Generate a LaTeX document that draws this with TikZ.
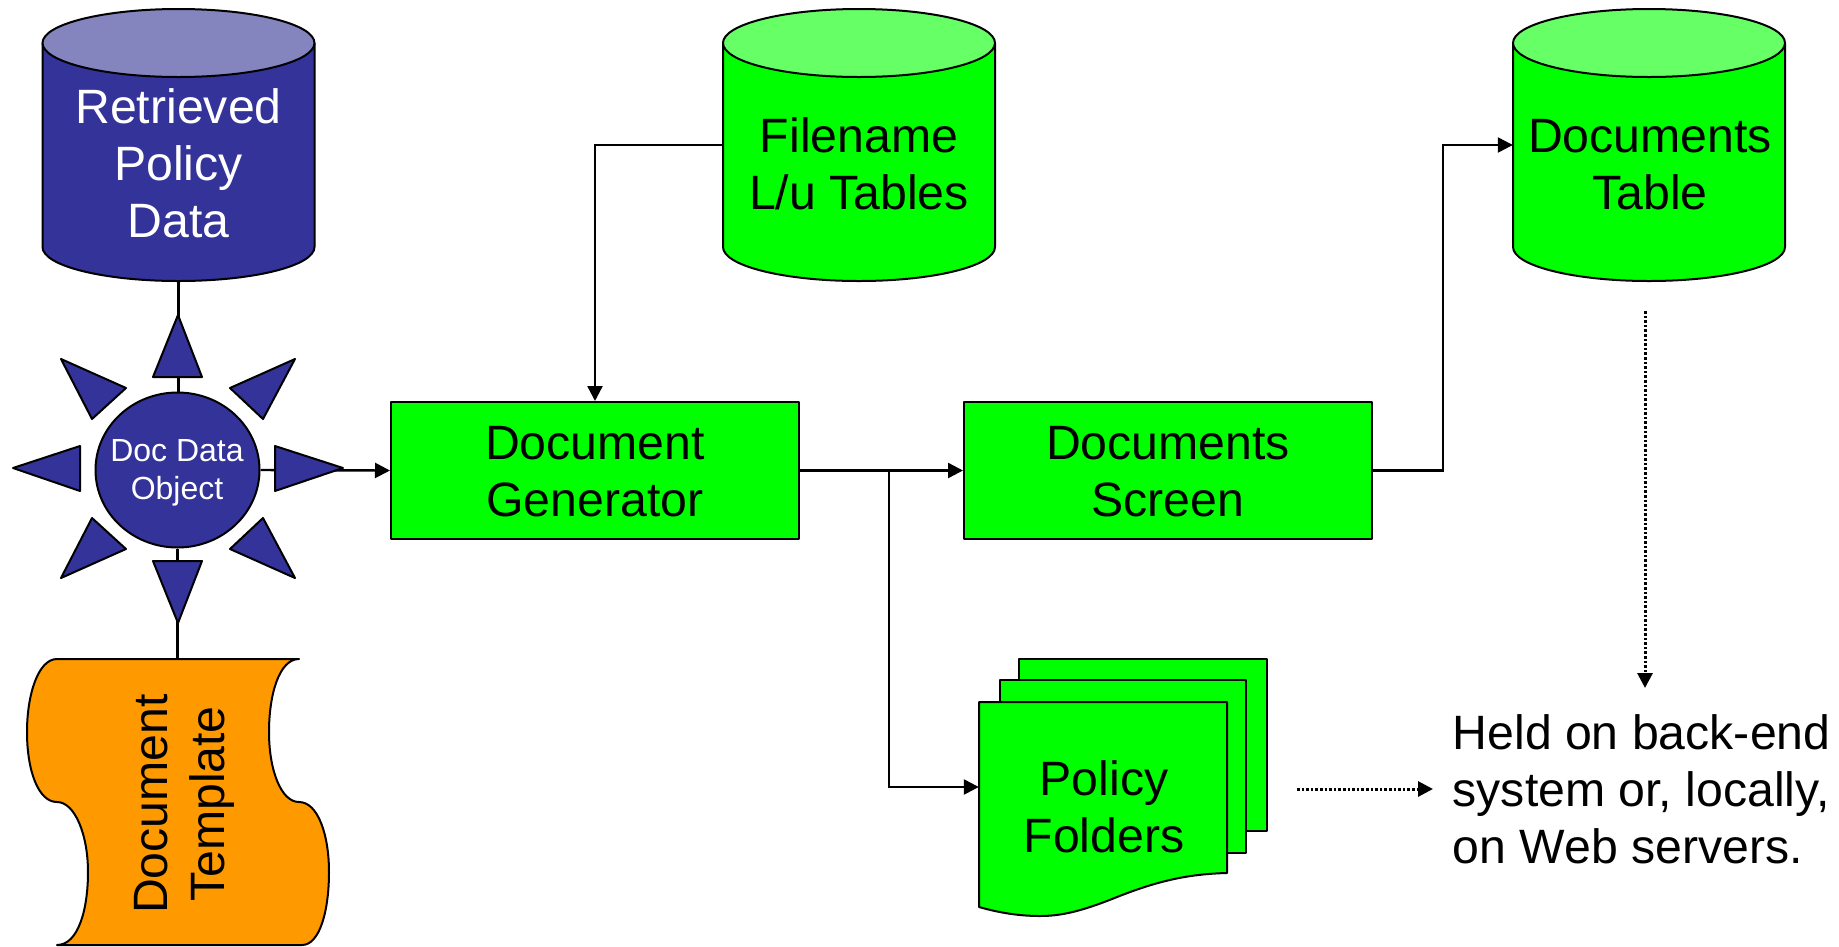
\documentclass[tikz,border=0pt]{standalone}
\usepackage{fontspec}
\setmainfont{Liberation Sans}
\usetikzlibrary{arrows.meta,shapes.geometric}
\definecolor{navy}{HTML}{333399}
\definecolor{navytop}{HTML}{8484BE}
\definecolor{bright}{HTML}{00FF00}
\definecolor{lighttop}{HTML}{66FF66}
\definecolor{amber}{HTML}{FF9900}
\tikzset{
  outline/.style={draw=black,line width=2pt,line join=round},
  ray/.style={outline,fill=navy},
  boxnode/.style={outline,fill=bright,minimum width=408pt,minimum height=137pt,inner sep=0pt,align=center,font=\bigtext},
  bigtext/.style={inner sep=0pt,align=center,font=\bigtext},
  anchorbox/.style={minimum width=272pt,minimum height=272pt,inner sep=0pt},
  link/.style={line width=2.4pt,draw=black},
  arrowlink/.style={link,-{Triangle[length=15pt,width=15pt]}},
  dotlink/.style={line width=3pt,draw=black,dash pattern=on 2.6pt off 2pt,-{Triangle[length=15pt,width=15pt]}}
}
\newcommand{\bigtext}{\fontsize{48.2}{57}\selectfont}
\newcommand{\cylinderdraw}[4]{% name, centre x, body colour, top colour
  \path[outline,fill=#3] (#2-136,43) -- (#2-136,247) .. controls +(0,18.8) and +(-75,0) .. (#2,281)
     .. controls +(75,0) and +(0,18.8) .. (#2+136,247) -- (#2+136,43) -- cycle;
  \path[outline,fill=#4] (#2,43) ellipse [x radius=136pt,y radius=34pt];
  \node[anchorbox] (#1) at (#2,145) {};
}
\begin{document}
\begin{tikzpicture}[x=1pt,y=-1pt]
\useasboundingbox (0,0) rectangle (1839,946);

% cylinders
\cylinderdraw{retrieved}{178.5}{navy}{navytop}
\cylinderdraw{filename}{859}{bright}{lighttop}
\cylinderdraw{doctable}{1649}{bright}{lighttop}
\node[bigtext,text=white] (retrievedtext) at (178.5,163.5) {Retrieved\\Policy\\Data};
\node[bigtext] (filenametext) at (859,164) {Filename\\L/u Tables};
\node[bigtext] (doctabletext) at (1650,165) {Documents\\Table};

% template
\path[outline,fill=amber] (57,659) .. controls (38,659) and (27,695) .. (27,732)
  .. controls (27,770) and (38,802) .. (57,802)
  .. controls (75,802) and (88,835) .. (88,872)
  .. controls (88,910) and (78,945) .. (57,945)
  -- (302,945) .. controls (320,945) and (329,910) .. (329,872)
  .. controls (329,835) and (318,802) .. (299,802)
  .. controls (281,802) and (269,770) .. (269,732)
  .. controls (269,695) and (279,659) .. (299,659) -- cycle;
\node[minimum width=270pt,minimum height=286pt,inner sep=0pt] (template) at (178.5,802) {};
\node[bigtext,rotate=90] (templatetext) at (184,804) {Document\\Template};

% central object
\node[ellipse,outline,fill=navy,minimum width=164pt,minimum height=155pt,inner sep=0pt] (object) at (177.5,470) {};
\node[inner sep=0pt,text=white,align=center,font=\fontsize{32}{38}\selectfont] (objecttext) at (177,473) {Doc Data\\Object};

% process boxes
\node[boxnode] (generator) at (595,470.5) {};
\node[boxnode] (screen) at (1168,470.5) {};
\node[bigtext] (generatortext) at (595,471.5) {Document\\Generator};
\node[bigtext] (screentext) at (1168,471.5) {Documents\\Screen};

% folders
\path[outline,fill=bright] (1019,659) rectangle (1267,831);
\path[outline,fill=bright] (1000,680) rectangle (1246,853);
\path[outline,fill=bright] (979,702) -- (1227,702) -- (1227,873)
  .. controls (1190,874) and (1160,880) .. (1117,897)
  .. controls (1080,912) and (1060,916) .. (1040,916)
  .. controls (1020,916) and (1000,913) .. (979,907) -- cycle;
\node[minimum width=248pt,minimum height=170pt,inner sep=0pt] (folders) at (1103,787) {};
\node[bigtext] (folderstext) at (1104,806.5) {Policy\\Folders};

% caption
\node[font=\bigtext,inner sep=0pt,align=left,anchor=west] (held) at (1452.5,789)
  {Held on back-end\\system or, locally,\\on Web servers.};

% connectors
\draw[link] (retrieved.south) -- (retrieved.south |- object.north);
\draw[link] (template.north -| object.south) -- (object.south);
\draw[arrowlink] (object.east) -- (generator.west);
\draw[arrowlink] (filename.west) -| (generator.north);
\draw[arrowlink] (generator.east) -- (screen.west);
\coordinate (branch) at (889,470.5);
\draw[arrowlink] (branch) |- (folders.west);
\draw[arrowlink] (screen.east) -- (1443,470.5) |- (doctable.west);
\coordinate (dotastart) at (1645,311);
\coordinate (dotaend) at (1645,688);
\draw[dotlink] (dotastart) -- (dotaend);
\coordinate (dotbstart) at (1297,789);
\coordinate (dotbend) at (1433,789);
\draw[dotlink] (dotbstart) -- (dotbend);

% rays
\path[ray] (178,315) -- (202,377) -- (153,377) -- cycle;
\path[ray] (178,623) -- (202,561) -- (153,561) -- cycle;
\path[ray] (13,468) -- (80,446) -- (80,491) -- cycle;
\path[ray] (343,468) -- (275,446) -- (275,491) -- cycle;
\path[ray] (61,359) -- (126,388) -- (92,419) -- cycle;
\path[ray] (295,359) -- (230,388) -- (263,419) -- cycle;
\path[ray] (61,578) -- (126,549) -- (92,518) -- cycle;
\path[ray] (295,578) -- (230,549) -- (263,518) -- cycle;
\end{tikzpicture}
\end{document}
